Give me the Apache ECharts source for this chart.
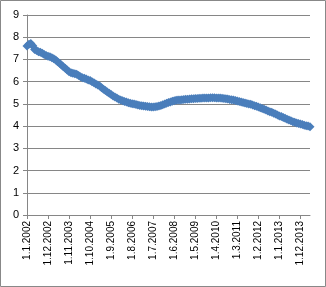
<!DOCTYPE html>
<html>
<head>
<meta charset="utf-8">
<script src="https://cdn.jsdelivr.net/npm/echarts@6/dist/echarts.min.js"></script>
<style>
html,body{margin:0;padding:0;background:#fff;}
#c{width:326px;height:287px;}
</style>
</head>
<body>
<div id="c"></div>
<script>
// Start month / count of monthly categories (1.1.2002 .. 1.5.2014)
var startYear = 2002;
var monthCount = 149;
var yTicks = [0,1,2,3,4,5,6,7,8,9];

var values = [
7.60,7.68,7.72,7.62,7.45,7.40,7.35,7.32,7.28,7.22,7.18,7.14,
7.12,7.08,7.03,6.97,6.90,6.83,6.75,6.67,6.60,6.52,6.45,6.40,
6.38,6.36,6.33,6.28,6.22,6.18,6.15,6.12,6.08,6.05,6.00,5.95,
5.90,5.85,5.80,5.73,5.66,5.60,5.54,5.48,5.42,5.36,5.31,5.26,
5.21,5.18,5.14,5.11,5.08,5.05,5.03,5.01,4.99,4.97,4.95,4.93,
4.92,4.90,4.89,4.88,4.87,4.86,4.86,4.87,4.88,4.90,4.93,4.96,
5.00,5.03,5.06,5.09,5.12,5.14,5.16,5.17,5.18,5.19,5.20,5.21,
5.21,5.22,5.23,5.23,5.24,5.24,5.25,5.25,5.26,5.26,5.27,5.27,
5.28,5.28,5.28,5.27,5.27,5.26,5.25,5.24,5.23,5.22,5.20,5.19,
5.17,5.15,5.13,5.11,5.09,5.06,5.04,5.02,5.00,4.98,4.95,4.92,
4.89,4.86,4.83,4.79,4.76,4.72,4.68,4.65,4.62,4.58,4.54,4.50,
4.46,4.43,4.39,4.35,4.31,4.27,4.24,4.20,4.17,4.14,4.12,4.10,
4.07,4.04,4.02,4.00,3.97
];

var categories = [];
for (var k = 0; k < monthCount; k++) {
  var m = k % 12 + 1, y = startYear + Math.floor(k / 12);
  categories.push('1.' + m + '.' + y);
}

var chart = echarts.init(document.getElementById('c'), null, {renderer:'canvas'});
chart.setOption({
  animation: false,
  backgroundColor: '#fff',
  graphic: [{
    type: 'rect', shape: {x: 0.5, y: 0.5, width: 325, height: 286},
    style: {fill: 'none', stroke: '#888', lineWidth: 1}, silent: true
  }],
  grid: {left: 27, right: 16, top: 15, bottom: 72, containLabel: false},
  xAxis: {
    type: 'category',
    data: categories,
    boundaryGap: false,
    axisLine: {lineStyle: {color: '#868686', width: 1}},
    axisTick: {show: true, interval: 10, length: 4, lineStyle: {color: '#868686'}},
    axisLabel: {interval: 10, rotate: 90, fontSize: 10, color: '#000', margin: 6,
      fontFamily: 'Liberation Sans, Arial, sans-serif'},
    splitLine: {show: false}
  },
  yAxis: {
    type: 'value',
    min: yTicks[0], max: yTicks[yTicks.length - 1], interval: 1,
    axisLine: {show: true, lineStyle: {color: '#868686', width: 1}},
    axisTick: {show: true, length: 4, lineStyle: {color: '#868686'}},
    axisLabel: {fontSize: 11, color: '#000', margin: 8,
      fontFamily: 'Liberation Sans, Arial, sans-serif'},
    splitLine: {show: true, lineStyle: {color: '#868686', width: 1}}
  },
  series: [{
    type: 'line',
    data: values,
    showAllSymbol: true,
    symbol: 'diamond',
    symbolSize: 9,
    itemStyle: {color: '#4A7EBB'},
    lineStyle: {color: '#4A7EBB', width: 3},
    silent: true
  }]
});
</script>
</body>
</html>
